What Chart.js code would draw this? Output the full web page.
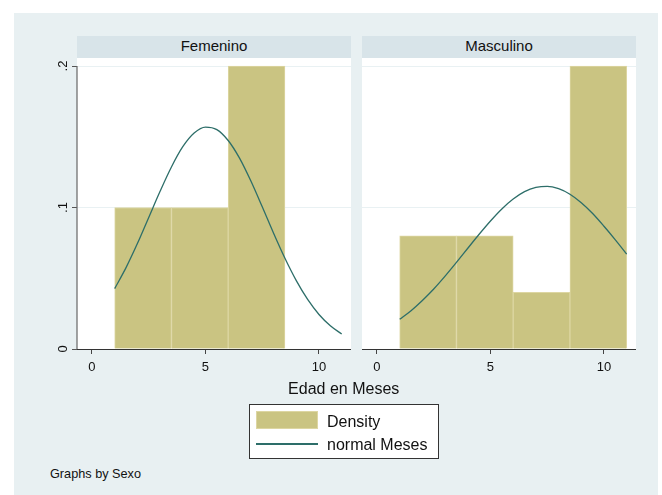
<!DOCTYPE html>
<html>
<head>
<meta charset="utf-8">
<script src="https://cdn.jsdelivr.net/npm/chart.js@4.4.1/dist/chart.umd.min.js"></script>
<style>
  html, body { margin: 0; padding: 0; background: #ffffff; }
  body { width: 662px; height: 495px; position: relative; overflow: hidden;
         font-family: "Liberation Sans", Arial, sans-serif; color: #111; }
  #region { position: absolute; left: 14px; top: 13px; width: 644px; height: 482px; background: #e8f0f2; }
  .strip { position: absolute; top: 36px; height: 22px; line-height: 20px; background: #d8e4e9;
           text-align: center; font-size: 15px; white-space: nowrap; }
  canvas { position: absolute; }
  .txt { position: absolute; white-space: nowrap; }
  #legend { position: absolute; left: 249px; top: 404px; width: 188px; height: 53px;
            border: 1px solid #333; background: #ffffff; }
  #swatch { position: absolute; left: 6px; top: 6px; width: 60px; height: 16px;
            background: #cac482; border: 1px solid #ddd6a2; }
  #lineKey { position: absolute; left: 6px; top: 38px; width: 62px; height: 1.5px; background: #2d6e69; }
  #legend .txt { font-size: 16px; line-height: 18px; left: 77px; }
</style>
</head>
<body>
<div id="region"></div>
<div class="strip" style="left:77px;width:274px;">Femenino</div>
<div class="strip" style="left:362px;width:274px;">Masculino</div>
<canvas id="cFem" width="311" height="330" style="left:40px;top:58px;"></canvas>
<canvas id="cMasc" width="274" height="330" style="left:362px;top:58px;"></canvas>
<div class="txt" style="left:243.7px;width:200px;text-align:center;top:379.5px;font-size:16px;line-height:18px;">Edad en Meses</div>
<div id="legend">
  <div id="swatch"></div>
  <div class="txt" style="top:7.8px;">Density</div>
  <div id="lineKey"></div>
  <div class="txt" style="top:30.5px;">normal Meses</div>
</div>
<div class="txt" style="left:50px;top:466.8px;font-size:12.7px;line-height:15px;">Graphs by Sexo</div>

<script>
// Histogram bins (width 2.5, starting at 1): bin midpoints and densities
const femBinMid = [2.25, 4.75, 7.25];
const femDensity = [0.1, 0.1, 0.2];
const mascBinMid = [2.25, 4.75, 7.25, 9.75];
const mascDensity = [0.08, 0.08, 0.04, 0.2];

// Normal density overlay, sampled over the age range
const curveX = [1, 1.5, 2, 2.5, 3, 3.5, 4, 4.5, 5, 5.5, 6, 6.5, 7, 7.5, 8, 8.5, 9, 9.5, 10, 10.5, 11];
const femNormal = [0.0427, 0.0575, 0.0745, 0.0930, 0.1115, 0.1287, 0.1430, 0.1527, 0.1569, 0.1551, 0.1474,
                   0.1349, 0.1187, 0.1005, 0.0818, 0.0641, 0.0483, 0.0350, 0.0244, 0.0164, 0.0106];
const mascNormal = [0.0210, 0.0271, 0.0343, 0.0424, 0.0515, 0.0612, 0.0712, 0.0811, 0.0905, 0.0990, 0.1060,
                    0.1112, 0.1142, 0.1150, 0.1133, 0.1094, 0.1034, 0.0958, 0.0868, 0.0772, 0.0671];

// Axis ticks
const xTicks = [0, 5, 10];
const xTickLabels = ['0', '5', '10'];
const yTicks = [0, 0.1, 0.2];
const yTickLabels = ['0', '.1', '.2'];

const BAR_FILL = '#cac482';
const BAR_EDGE = '#ddd6a2';
const LINE_COLOR = '#2d6e69';
const GRID_COLOR = '#e9f1f3';
const FONT = '"Liberation Sans", Arial, sans-serif';

// White plot region, hand-drawn axis line and tick labels
const panelDecor = {
  id: 'panelDecor',
  beforeDraw(chart) {
    const { ctx, chartArea: a } = chart;
    ctx.save();
    ctx.fillStyle = '#ffffff';
    ctx.fillRect(a.left, a.top, a.right - a.left, a.bottom - a.top);
    ctx.restore();
  },
  afterDraw(chart, args, opts) {
    const { ctx, chartArea: a } = chart;
    const xs = chart.scales.x, ys = chart.scales.y;
    ctx.save();
    ctx.fillStyle = '#111';
    ctx.font = '13px ' + FONT;
    ctx.textAlign = 'center';
    ctx.textBaseline = 'alphabetic';
    xTicks.forEach((v, i) => ctx.fillText(xTickLabels[i], xs.getPixelForValue(v), a.bottom + 22.3));
    if (opts.showY) {
      ctx.strokeStyle = '#666';
      ctx.lineWidth = 1.2;
      ctx.beginPath();
      ctx.moveTo(a.left, ys.getPixelForValue(yTicks[yTicks.length - 1]));
      ctx.lineTo(a.left, a.bottom);
      ctx.stroke();
      yTicks.forEach((v, i) => {
        ctx.save();
        ctx.translate(a.left - 10, ys.getPixelForValue(v));
        ctx.rotate(-Math.PI / 2);
        ctx.fillText(yTickLabels[i], 0, 0);
        ctx.restore();
      });
    }
    ctx.restore();
  }
};

function makePanel(canvasId, mids, dens, normal, showY) {
  return new Chart(document.getElementById(canvasId), {
    type: 'bar',
    data: {
      datasets: [
        {
          type: 'line',
          label: 'normal Meses',
          data: curveX.map((x, i) => ({ x: x, y: normal[i] })),
          borderColor: LINE_COLOR,
          borderWidth: 1.3,
          pointRadius: 0,
          cubicInterpolationMode: 'monotone',
          fill: false,
          order: 0
        },
        {
          type: 'bar',
          label: 'Density',
          data: mids.map((x, i) => ({ x: x, y: dens[i] })),
          backgroundColor: BAR_FILL,
          borderColor: BAR_EDGE,
          borderWidth: 1,
          borderSkipped: 'bottom',
          barPercentage: 1,
          categoryPercentage: 1,
          order: 1
        }
      ]
    },
    options: {
      responsive: false,
      animation: false,
      events: [],
      layout: { padding: 0 },
      plugins: { legend: { display: false }, tooltip: { enabled: false }, panelDecor: { showY: showY } },
      scales: {
        x: {
          type: 'linear',
          offset: false,
          min: -0.66,
          max: 11.41,
          afterBuildTicks: s => { s.ticks = xTicks.map(v => ({ value: v })); },
          afterFit: s => { s.height = 39; },
          ticks: { display: false },
          grid: { offset: false, drawOnChartArea: false, drawTicks: true, tickLength: 5, tickColor: '#444', tickWidth: 1 },
          border: { display: true, color: '#333', width: 1 }
        },
        y: {
          type: 'linear',
          min: 0,
          max: 0.2057,
          afterBuildTicks: s => { s.ticks = yTicks.map(v => ({ value: v })); },
          afterFit: s => { s.width = showY ? 37 : 0; },
          ticks: { display: false },
          grid: {
            drawOnChartArea: true,
            drawTicks: showY,
            tickLength: 5,
            tickColor: '#555',
            color: c => (c.tick && c.tick.value === 0 ? 'rgba(0,0,0,0)' : GRID_COLOR),
            lineWidth: 1
          },
          border: { display: false }
        }
      }
    },
    plugins: [panelDecor]
  });
}

makePanel('cFem', femBinMid, femDensity, femNormal, true);
makePanel('cMasc', mascBinMid, mascDensity, mascNormal, false);
</script>
</body>
</html>
